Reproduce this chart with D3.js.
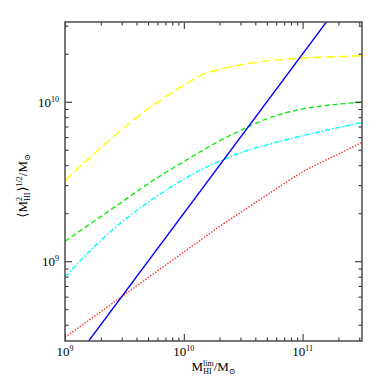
<!DOCTYPE html>
<html>
<head>
<meta charset="utf-8">
<script src="https://cdn.jsdelivr.net/npm/d3@7"></script>
<style>
  body { margin: 0; background: #fff; }
  text { font-family: "Liberation Serif", "DejaVu Serif", serif; fill: #000; }
</style>
</head>
<body>
<svg id="chart" width="382" height="382"></svg>
<script>
// Limiting HI mass (x) grid shared by the model curves
const massLim = [1e9, 2e9, 3e9, 5e9, 7e9, 1e10, 1.5e10, 2e10, 3e10, 5e10, 1e11, 2e11, 3.16e11];

// rms HI mass for each model curve
const yellowVals = [3.21e9, 5.15e9, 6.68e9, 9.02e9, 1.072e10, 1.274e10, 1.496e10, 1.596e10, 1.706e10, 1.803e10, 1.879e10, 1.919e10, 1.945e10];
const greenVals  = [1.334e9, 1.905e9, 2.35e9, 3.055e9, 3.59e9, 4.217e9, 5.047e9, 5.689e9, 6.607e9, 7.816e9, 9.016e9, 9.66e9, 9.954e9];
const cyanVals   = [7.98e8, 1.349e9, 1.758e9, 2.344e9, 2.773e9, 3.273e9, 3.846e9, 4.236e9, 4.786e9, 5.37e9, 6.124e9, 6.887e9, 7.413e9];
const redVals    = [3.33e8, 4.83e8, 6.0e8, 7.89e8, 9.44e8, 1.143e9, 1.419e9, 1.652e9, 2.023e9, 2.6e9, 3.63e9, 4.7e9, 5.56e9];

// straight reference line
const blueX = [1e9, 3.16e11];
const blueY = [2.0e8, 6.3e10];

// tick values
const xMajor = [1e9, 1e10, 1e11];
const xMinor = [2e9, 3e9, 4e9, 5e9, 6e9, 7e9, 8e9, 9e9, 2e10, 3e10, 4e10, 5e10, 6e10, 7e10, 8e10, 9e10, 2e11, 3e11];
const yMajor = [1e9, 1e10];
const yMinor = [4e8, 5e8, 6e8, 7e8, 8e8, 9e8, 2e9, 3e9, 4e9, 5e9, 6e9, 7e9, 8e9, 9e9, 2e10, 3e10];
const xLabels = [{v: 1e9, e: "9"}, {v: 1e10, e: "10"}, {v: 1e11, e: "11"}];
const yLabels = [{v: 1e9, e: "9"}, {v: 1e10, e: "10"}];

const svg = d3.select("#chart"),
    margin = {top: 22, right: 20, bottom: 41, left: 65},
    width = 382 - margin.left - margin.right,
    height = 382 - margin.top - margin.bottom;

const chart = svg.append("g").attr("transform", `translate(${margin.left},${margin.top})`);

// Scales
const x = d3.scaleLog().domain([1e9, Math.pow(10, 11.5)]).range([0, width]);
const y = d3.scaleLog().domain([Math.pow(10, 8.5), Math.pow(10, 10.5)]).range([height, 0]);

// Clip for the curves
svg.append("defs").append("clipPath").attr("id", "clip")
    .append("rect").attr("width", width).attr("height", height);

const line = d3.line()
    .x(d => x(d[0]))
    .y(d => y(d[1]))
    .curve(d3.curveMonotoneX);

const series = [
    {vals: yellowVals, color: "#ffff00", dash: "9,4"},
    {vals: greenVals, color: "#11ee11", dash: "5,3"},
    {vals: cyanVals, color: "#00ffff", dash: "5,2,1.5,2"},
    {vals: redVals, color: "#ff3333", dash: "1.5,1.5"}
];

const plot = chart.append("g").attr("clip-path", "url(#clip)");

series.forEach(s => {
    plot.append("path")
        .datum(massLim.map((m, i) => [m, s.vals[i]]))
        .attr("d", line)
        .attr("fill", "none")
        .attr("stroke", s.color)
        .attr("stroke-width", 1.4)
        .attr("stroke-dasharray", s.dash);
});

plot.append("path")
    .datum(blueX.map((m, i) => [m, blueY[i]]))
    .attr("d", d3.line().x(d => x(d[0])).y(d => y(d[1])))
    .attr("fill", "none")
    .attr("stroke", "#0000ff")
    .attr("stroke-width", 1.4);

// Axes: ticks point inward on all four sides
function drawAxis(axisFn, scale, vals, size, transform) {
    const g = chart.append("g")
        .attr("transform", transform)
        .call(axisFn(scale).tickValues(vals).tickSize(size).tickFormat(""));
    g.select(".domain").remove();
    g.selectAll(".tick line").attr("stroke", "#222").attr("stroke-width", 1);
}

drawAxis(d3.axisBottom, x, xMajor, -7, `translate(0,${height})`);
drawAxis(d3.axisBottom, x, xMinor, -3.5, `translate(0,${height})`);
drawAxis(d3.axisTop, x, xMajor, -7, "translate(0,0)");
drawAxis(d3.axisTop, x, xMinor, -3.5, "translate(0,0)");
drawAxis(d3.axisLeft, y, yMajor, -7, "translate(0,0)");
drawAxis(d3.axisLeft, y, yMinor, -3.5, "translate(0,0)");
drawAxis(d3.axisRight, y, yMajor, -7, `translate(${width},0)`);
drawAxis(d3.axisRight, y, yMinor, -3.5, `translate(${width},0)`);

// Frame
chart.append("rect")
    .attr("width", width)
    .attr("height", height)
    .attr("fill", "none")
    .attr("stroke", "#555")
    .attr("stroke-width", 1.6);

// Tick labels
chart.selectAll(".xlab")
    .data(xLabels)
    .enter().append("text")
    .attr("class", "xlab")
    .attr("x", d => x(d.v))
    .attr("y", height + 15)
    .attr("text-anchor", "middle")
    .style("font-size", "13px")
    .each(function(d) {
        const t = d3.select(this);
        t.append("tspan").text("10");
        t.append("tspan").attr("dy", -5).style("font-size", "8px").text(d.e);
    });

chart.selectAll(".ylab")
    .data(yLabels)
    .enter().append("text")
    .attr("class", "ylab")
    .attr("x", -6)
    .attr("y", d => y(d.v) + 5)
    .attr("text-anchor", "end")
    .style("font-size", "13px")
    .each(function(d) {
        const t = d3.select(this);
        t.append("tspan").text("10");
        t.append("tspan").attr("dy", -5).style("font-size", "8px").text(d.e);
    });

// Axis titles
const xt = chart.append("text")
    .attr("x", width / 2)
    .attr("y", height + 30)
    .attr("text-anchor", "middle")
    .style("font-size", "13px");
xt.append("tspan").text("M");
xt.append("tspan").attr("dy", -5).style("font-size", "8px").text("lim");
xt.append("tspan").attr("dx", -10.5).attr("dy", 8).style("font-size", "8px").text("HI");
xt.append("tspan").attr("dx", 2).attr("dy", -3).text("/M");
xt.append("tspan").attr("dy", 3).style("font-size", "8px").text("⊙");

const yt = chart.append("text")
    .attr("transform", `translate(${27 - margin.left},${186 - margin.top}) rotate(-90)`)
    .attr("text-anchor", "middle")
    .style("font-size", "13px");
yt.append("tspan").text("⟨M");
yt.append("tspan").attr("dy", -5).style("font-size", "8px").text("2");
yt.append("tspan").attr("dx", -4).attr("dy", 8).style("font-size", "8px").text("HI");
yt.append("tspan").attr("dx", 1).attr("dy", -3).text("⟩");
yt.append("tspan").attr("dy", -5).style("font-size", "8px").text("1/2");
yt.append("tspan").attr("dy", 5).text("/M");
yt.append("tspan").attr("dy", 3).style("font-size", "8px").text("⊙");
</script>
</body>
</html>
